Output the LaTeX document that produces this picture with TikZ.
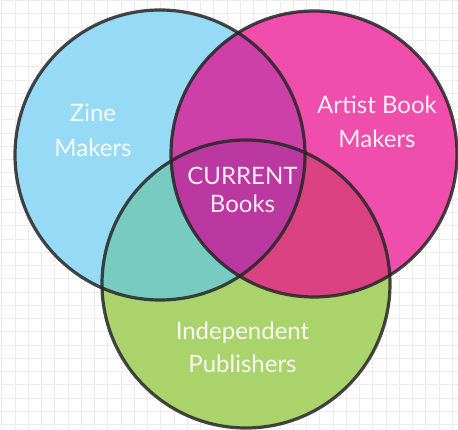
\documentclass[tikz,border=0pt]{standalone}
\usepackage{fontspec}
\setmainfont{Lato}
\definecolor{cblue}{HTML}{97DAF6}
\definecolor{cpink}{HTML}{F04EAC}
\definecolor{cgreen}{HTML}{AAD36C}
\definecolor{cbp}{HTML}{CC40A8}
\definecolor{cbg}{HTML}{78CBC0}
\definecolor{cpg}{HTML}{DA4282}
\definecolor{cbpg}{HTML}{BA38A0}
\definecolor{gridc}{HTML}{EDEDED}
\definecolor{rimc}{HTML}{262626}
\begin{document}
\begin{tikzpicture}[x=1pt,y=-1pt,
  gridline/.style={draw=gridc,line width=0.6pt},
  rim/.style={draw=rimc,draw opacity=0.85,line width=3.2pt},
  lbl/.style={anchor=base,text=white,text opacity=0.9,font=\fontsize{24}{28}\selectfont,inner sep=0pt}]
\useasboundingbox (0,0) rectangle (458,430);
\fill[white] (0,0) rectangle (458,430);
\foreach \i in {0,...,34} \draw[gridline] ({1.7+13.25*\i},0) -- ({1.7+13.25*\i},430);
\foreach \i in {0,...,32} \draw[gridline] (0,{0.5+13.25*\i}) -- (458,{0.5+13.25*\i});
\coordinate (cb) at (160,155);
\coordinate (cp) at (314,154);
\coordinate (cg) at (246,284);
\def\rb{145pt}\def\rp{143pt}\def\rg{144pt}
% base fills
\fill[cblue] (cb) circle[radius=\rb];
\fill[cpink] (cp) circle[radius=\rp];
\fill[cgreen] (cg) circle[radius=\rg];
% pairwise overlaps
\begin{scope}
  \clip (cb) circle[radius=\rb];
  \fill[cbp] (cp) circle[radius=\rp];
  \fill[cbg] (cg) circle[radius=\rg];
\end{scope}
\begin{scope}
  \clip (cp) circle[radius=\rp];
  \fill[cpg] (cg) circle[radius=\rg];
\end{scope}
\begin{scope}
  \clip (cb) circle[radius=\rb];
  \clip (cp) circle[radius=\rp];
  \fill[cbpg] (cg) circle[radius=\rg];
\end{scope}
% outlines
\draw[rim] (cb) circle[radius=\rb];
\draw[rim] (cp) circle[radius=\rp];
\draw[rim] (cg) circle[radius=\rg];
% labels
\node[lbl] (zine) at (93,122) {Zine};
\node[lbl] (zmak) at (93,157) {Makers};
\node[lbl] (artist) at (377,114) {Artist Book};
\node[lbl] (amak) at (377,148) {Makers};
\node[lbl] (current) at (242.5,185) {CURRENT};
\node[lbl] (books) at (242.5,213) {Books};
\node[lbl] (indep) at (242.5,340) {Independent};
\node[lbl] (publ) at (242.5,373) {Publishers};
\end{tikzpicture}
\end{document}
